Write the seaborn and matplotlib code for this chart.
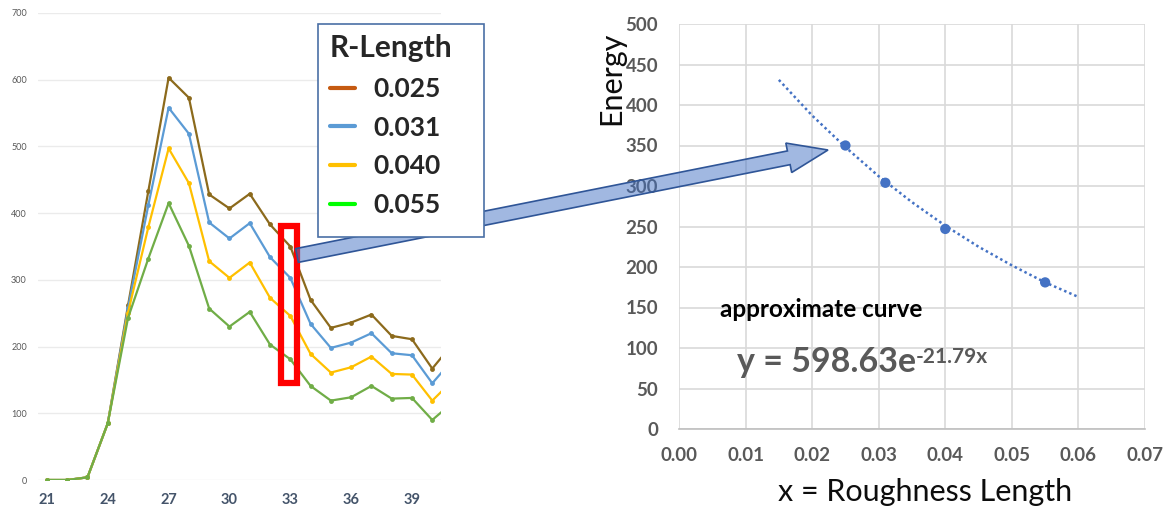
import pandas as pd
import matplotlib
matplotlib.use('Agg')
import matplotlib.pyplot as plt
import seaborn as sns
from matplotlib.patches import Rectangle, FancyArrow
from matplotlib.lines import Line2D
from matplotlib.ticker import MultipleLocator, FormatStrFormatter

# left chart: energy per hour for each roughness length
hours = list(range(21, 42))
e_025 = [0, 0, 4, 85, 262, 433, 603, 573, 428, 407, 429, 383, 350, 270, 228, 236, 248, 216, 211, 167, 204]
e_031 = [0, 0, 4, 85, 258, 412, 558, 519, 386, 362, 385, 334, 303, 234, 198, 206, 220, 190, 187, 145, 180]
e_040 = [0, 0, 4, 85, 251, 379, 497, 445, 328, 303, 326, 273, 246, 189, 161, 169, 185, 159, 158, 119, 149]
e_055 = [0, 0, 4, 85, 243, 332, 415, 351, 257, 230, 252, 203, 181, 141, 119, 124, 141, 122, 123, 90, 116]
series_labels = ['0.025', '0.031', '0.040', '0.055']
x_ticks_left = [21, 24, 27, 30, 33, 36, 39]

# right chart: energy at hour 33 vs roughness length + approximate curve
r_length = [0.025, 0.031, 0.040, 0.055]
energy = [350, 304, 247, 181]
curve_x = [0.015, 0.020, 0.025, 0.030, 0.035, 0.040, 0.045, 0.050, 0.055, 0.060]
curve_y = [431, 387, 348, 312, 280, 251, 225, 202, 181, 163]

line_colors = ['#8C6A1C', '#5B9BD5', '#FFC000', '#70AD47']
legend_colors = ['#C55A11', '#5B9BD5', '#FFC000', '#00FF00']

sns.set_style('white')
plt.rcParams['font.family'] = ['Lato', 'DejaVu Sans']

W, H = 1164, 513
fig = plt.figure(figsize=(W / 100, H / 100), dpi=100)

# ---- left line chart
ax1 = fig.add_axes([38 / W, 33 / H, 403 / W, 467 / H])
df = pd.DataFrame({
    'hour': hours * 4,
    'energy': e_025 + e_031 + e_040 + e_055,
    'R-Length': sum([[lab] * len(hours) for lab in series_labels], []),
})
sns.lineplot(data=df, x='hour', y='energy', hue='R-Length', hue_order=series_labels,
             palette=line_colors, marker='o', markersize=3.5, markeredgewidth=0,
             linewidth=1.6, legend=False, ax=ax1)
ax1.set_xlim(20.56, 40.43)
ax1.set_ylim(0, 700)
ax1.set_yticks(range(0, 701, 100))
ax1.set_xticks(x_ticks_left)
ax1.yaxis.grid(True, color='#EBEBEB', lw=1)
ax1.xaxis.grid(False)
for s in ax1.spines.values():
    s.set_visible(False)
ax1.tick_params(axis='y', length=0, labelsize=6.5, labelcolor='#595959', pad=8)
ax1.tick_params(axis='x', length=0, labelsize=10.5, labelcolor='#44546A', pad=9)
for lbl in ax1.get_xticklabels():
    lbl.set_fontweight('bold')
ax1.set_xlabel('')
ax1.set_ylabel('')
ax1.add_patch(Rectangle((32.54, 145), 0.81, 236, fill=False, edgecolor='#FF0000',
                        lw=4.5, clip_on=False, zorder=5))

# ---- right scatter chart
ax2 = fig.add_axes([679 / W, 84 / H, 466 / W, 405 / H])
sns.lineplot(x=curve_x, y=curve_y, ax=ax2, color='#4472C4', lw=1.8,
             linestyle=(0, (1, 1.2)))
sns.scatterplot(x=r_length, y=energy, ax=ax2, color='#4472C4', s=55,
                edgecolor='none', zorder=3)
ax2.set_xlim(0, 0.07)
ax2.set_ylim(0, 500)
ax2.xaxis.set_major_locator(MultipleLocator(0.01))
ax2.xaxis.set_minor_locator(MultipleLocator(0.005))
ax2.xaxis.set_major_formatter(FormatStrFormatter('%.2f'))
ax2.yaxis.set_major_locator(MultipleLocator(50))
ax2.grid(True, which='major', color='#D9D9D9', lw=1.2)
for k in ['left', 'top', 'right']:
    ax2.spines[k].set_visible(False)
ax2.spines['bottom'].set_color('#BFBFBF')
ax2.spines['bottom'].set_linewidth(1.2)
ax2.tick_params(axis='x', which='major', direction='inout', length=6, width=1.2,
                color='#BFBFBF', labelsize=13.5, labelcolor='#595959', pad=10)
ax2.tick_params(axis='x', which='minor', direction='in', length=3, width=1.2,
                color='#BFBFBF')
ax2.tick_params(axis='y', length=0, labelsize=13.5, labelcolor='#595959', pad=15)
for lbl in ax2.get_xticklabels() + ax2.get_yticklabels():
    lbl.set_fontweight('bold')
ax2.set_xlabel('')
ax2.set_ylabel('')

ax2.text(0.0062, 147, 'approximate curve', fontsize=17.5, fontweight='bold',
         color='black', va='center', ha='left')
eq = ax2.text(0.0087, 70, 'y = 598.63e', fontsize=24.5, fontweight='bold',
              color='#595959', va='baseline', ha='left')
ax2.annotate('-21.79x', xy=(1.0, 0.98), xycoords=eq, fontsize=15, fontweight='bold',
             color='#595959', va='top', ha='left')

fig.text(611 / W, 1 - 78 / H, 'Energy', rotation=90, fontsize=22, color='#0D0D0D',
         ha='center', va='center')
fig.text(925 / W, 1 - 492 / H, 'x = Roughness Length', fontsize=22, color='#0D0D0D',
         ha='center', va='center')

# ---- overlay: arrow + legend box (pixel coords)
ov = fig.add_axes([0, 0, 1, 1], zorder=3)
ov.set_xlim(0, W)
ov.set_ylim(H, 0)
ov.axis('off')
ov.patch.set_alpha(0)
ov.add_patch(FancyArrow(297, 255.5, 531, -105.5, width=14, head_width=30,
                        head_length=40, length_includes_head=True,
                        facecolor=(0.267, 0.447, 0.769, 0.5), edgecolor='#2F5597', lw=1.2))
ov.add_patch(Rectangle((318, 24), 166, 213, facecolor='white', edgecolor='#4A6FA5',
                       lw=1.2, zorder=4))

handles = [Line2D([], [], color=c, lw=3) for c in legend_colors]
fig.legend(handles, series_labels, title='R-Length', loc='upper left',
           bbox_to_anchor=(330 / W, 1 - 34 / H), bbox_transform=fig.transFigure,
           frameon=False, prop={'weight': 'bold', 'size': 19},
           title_fontproperties={'weight': 'bold', 'size': 21.5}, alignment='left',
           handlelength=0.95, handletextpad=0.68, labelspacing=0.56, borderpad=0,
           borderaxespad=0)

fig.savefig('out.png', dpi=100)
